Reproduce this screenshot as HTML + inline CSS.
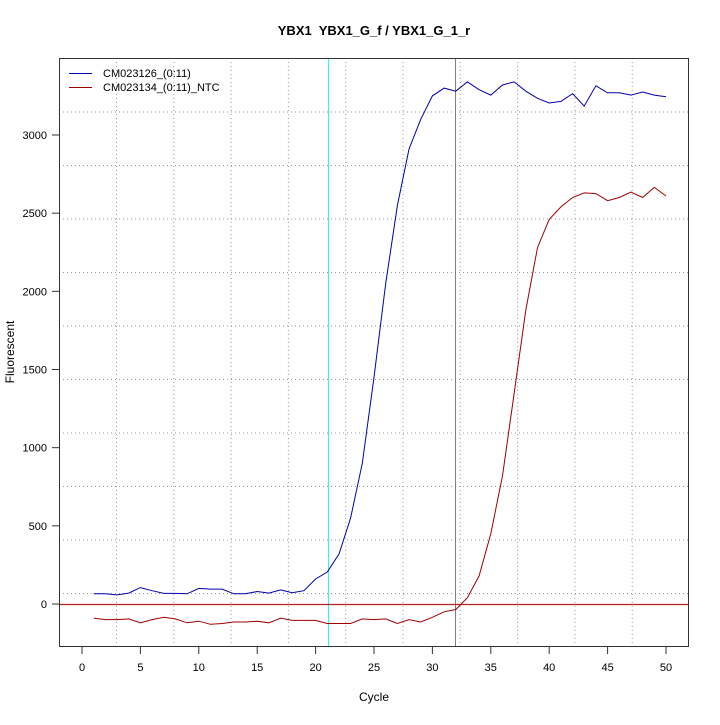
<!DOCTYPE html>
<html><head><style>
html,body{margin:0;padding:0;background:#fff;}
svg text{font-family:"Liberation Sans",sans-serif;}
</style></head><body>
<svg id="s" width="720" height="720" xmlns="http://www.w3.org/2000/svg">
<rect width="720" height="720" fill="#fff"/>
<g id="grid" stroke="#999" stroke-width="1" stroke-dasharray="1,3"></g>
<line x1="328.5" y1="58" x2="328.5" y2="647" stroke="#40f0f0" stroke-width="1.2"/>
<line x1="455.5" y1="58" x2="455.5" y2="647" stroke="#808080" stroke-width="1"/>
<line x1="59" y1="604.5" x2="689" y2="604.5" stroke="#b22222" stroke-width="1.2"/>
<polyline id="blue" fill="none" stroke="#0000b0" stroke-width="1"/>
<polyline id="red" fill="none" stroke="#a00000" stroke-width="1"/>
<rect x="59.5" y="58.5" width="629" height="588" fill="none" stroke="#333" stroke-width="1"/>
<g id="ax" stroke="#333"></g>
<g id="lab" font-size="11" fill="#000"></g>
<line x1="69" y1="73.5" x2="92" y2="73.5" stroke="#0000b0"/>
<line x1="69" y1="87.5" x2="92" y2="87.5" stroke="#a00000"/>
<text x="103" y="77" font-size="11">CM023126_(0:11)</text>
<text x="103" y="91" font-size="11">CM023134_(0:11)_NTC</text>
<text x="374" y="35" font-size="13" font-weight="bold" text-anchor="middle" xml:space="preserve" style="white-space:pre">YBX1  YBX1_G_f / YBX1_G_1_r</text>
<text x="374" y="701" font-size="12" text-anchor="middle">Cycle</text>
<text x="14" y="352" font-size="12" text-anchor="middle" transform="rotate(-90 14 352)">Fluorescent</text>
</svg>
<script>
var X=c=>82+c*11.68, Y=v=>604-v*0.15633;
var b=[65,65,58,70,105,85,68,68,65,100,95,95,65,65,80,70,90,72,85,160,205,320,550,900,1450,2050,2550,2910,3100,3250,3300,3280,3340,3290,3255,3320,3340,3280,3235,3205,3215,3265,3185,3315,3270,3270,3255,3275,3255,3245];
var r=[-90,-100,-100,-95,-120,-100,-85,-95,-120,-110,-130,-125,-115,-115,-110,-120,-90,-105,-105,-105,-125,-125,-125,-95,-100,-95,-125,-100,-115,-85,-50,-35,40,180,450,820,1350,1880,2280,2460,2540,2600,2630,2625,2580,2600,2635,2600,2665,2610];
document.getElementById('blue').setAttribute('points',b.map((v,i)=>X(i+1).toFixed(1)+','+Y(v).toFixed(1)).join(' '));
document.getElementById('red').setAttribute('points',r.map((v,i)=>X(i+1).toFixed(1)+','+Y(v).toFixed(1)).join(' '));
var g='',a='',l='';
for(var k=0;k<10;k++){var x=116.5+57.3*k;g+='<line x1="'+x+'" y1="58" x2="'+x+'" y2="647"/>';}
for(var k=0;k<10;k++){var y=112+53.5*k;g+='<line x1="59" y1="'+y+'" x2="689" y2="'+y+'"/>';}
document.getElementById('grid').innerHTML=g;
for(var c=0;c<=50;c+=5){var x=X(c);a+='<line x1="'+x+'" y1="647" x2="'+x+'" y2="654"/>';l+='<text x="'+x+'" y="671" text-anchor="middle">'+c+'</text>';}
for(var v=0;v<=3000;v+=500){var y=Y(v);a+='<line x1="52" y1="'+y+'" x2="59" y2="'+y+'"/>';l+='<text x="47" y="'+(y+4)+'" text-anchor="end">'+v+'</text>';}
document.getElementById('ax').innerHTML=a;document.getElementById('lab').innerHTML=l;
</script>
</body></html>
